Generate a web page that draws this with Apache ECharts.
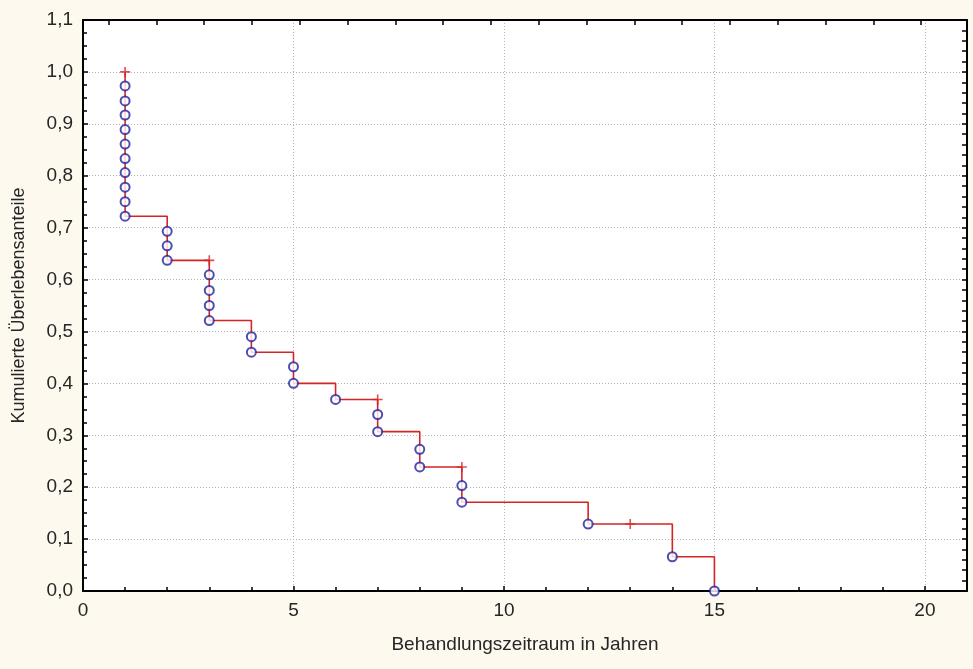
<!DOCTYPE html>
<html>
<head>
<meta charset="utf-8">
<title>Kumulierte Überlebensanteile</title>
<script src="https://cdn.jsdelivr.net/npm/echarts@6/dist/echarts.min.js"></script>
<style>
  html, body { margin: 0; padding: 0; background: #fdf9ee; }
  #chart { width: 973px; height: 669px; }
</style>
</head>
<body>
<div id="chart"></div>
<script>
// Kaplan-Meier curve: survival level after each event time
const startTime = 1;
const startSurvival = 1.0;
const stepTimes    = [1, 2, 3, 4, 5, 6, 7, 8, 9, 12, 14, 15];
const stepSurvival = [0.722, 0.637, 0.521, 0.460, 0.400, 0.369, 0.307, 0.239, 0.171, 0.129, 0.066, 0.0];

// completed cases (one circle per event)
const eventTimes = [1, 1, 1, 1, 1, 1, 1, 1, 1, 1,
                    2, 2, 2,
                    3, 3, 3, 3,
                    4, 4,
                    5, 5,
                    6,
                    7, 7,
                    8, 8,
                    9, 9,
                    12, 14, 15];
const eventSurvival = [0.973, 0.944, 0.917, 0.889, 0.861, 0.833, 0.806, 0.778, 0.750, 0.722,
                       0.693, 0.665, 0.637,
                       0.609, 0.579, 0.550, 0.521,
                       0.490, 0.460,
                       0.432, 0.400,
                       0.369,
                       0.340, 0.307,
                       0.273, 0.239,
                       0.203, 0.171,
                       0.129, 0.066, 0.0];

// censored cases
const censorTimes    = [1, 3, 7, 9, 13];
const censorSurvival = [1.0, 0.637, 0.369, 0.239, 0.129];

// tick labels
const xTickLabels = ['0', '5', '10', '15', '20'];
const yTickLabels = ['0,0', '0,1', '0,2', '0,3', '0,4', '0,5', '0,6', '0,7', '0,8', '0,9', '1,0', '1,1'];

const xAxisTitle = 'Behandlungszeitraum in Jahren';
const yAxisTitle = 'Kumulierte Überlebensanteile';

const RED = '#d42424';
const BLUE = '#22229e';
const FONT = 'Liberation Sans, Arial, sans-serif';
const TEXT = '#262626';

const lineData = [[startTime, startSurvival]].concat(stepTimes.map((t, i) => [t, stepSurvival[i]]));
const eventData = eventTimes.map((t, i) => [t, eventSurvival[i]]);
const censorData = censorTimes.map((t, i) => [t, censorSurvival[i]]);

const chart = echarts.init(document.getElementById('chart'), null, { renderer: 'canvas' });

const axisLineStyle = { color: '#000', width: 2 };
const tickStyle = { color: '#000', width: 1.5 };
const gridStyle = { color: '#b4b4b4', type: [1, 2], width: 1 };

chart.setOption({
  backgroundColor: '#fdf9ee',
  animation: false,
  grid: {
    left: 83, right: 6, top: 20, bottom: 78,
    show: true, backgroundColor: '#ffffff', borderWidth: 0
  },
  xAxis: [
    {
      type: 'value', position: 'bottom',
      min: 0, max: 21, interval: 5,
      axisLine: { show: true, onZero: false, lineStyle: axisLineStyle },
      axisTick: { show: true, inside: true, length: 5, lineStyle: tickStyle },
      minorTick: { show: true, splitNumber: 5, length: 4, lineStyle: tickStyle },
      axisLabel: {
        show: true, margin: 10, color: TEXT, fontFamily: FONT, fontSize: 19,
        showMaxLabel: false,
        formatter: v => xTickLabels[Math.round(v / 5)] ?? ''
      },
      splitLine: { show: true, lineStyle: gridStyle },
      name: xAxisTitle, nameLocation: 'middle', nameGap: 44,
      nameTextStyle: { color: TEXT, fontFamily: FONT, fontSize: 19 }
    },
    {
      // upper frame with its own tick spacing
      type: 'value', position: 'top',
      min: 0.464, max: 18.958, splitNumber: 18,
      axisLine: { show: true, onZero: false, lineStyle: axisLineStyle },
      axisTick: { show: true, inside: true, length: 5, lineStyle: tickStyle },
      axisLabel: { show: false },
      splitLine: { show: false }
    }
  ],
  yAxis: [
    {
      type: 'value', position: 'left',
      min: 0, max: 1.1, interval: 0.1,
      axisLine: { show: true, onZero: false, lineStyle: axisLineStyle },
      axisTick: { show: true, inside: true, length: 5, lineStyle: tickStyle },
      minorTick: { show: true, splitNumber: 4, length: 4, lineStyle: tickStyle },
      axisLabel: {
        show: true, margin: 10, color: TEXT, fontFamily: FONT, fontSize: 19,
        formatter: v => yTickLabels[Math.round(v * 10)] ?? ''
      },
      splitLine: { show: true, lineStyle: gridStyle },
      name: yAxisTitle, nameLocation: 'middle', nameGap: 55,
      nameTextStyle: { color: TEXT, fontFamily: FONT, fontSize: 18 }
    },
    {
      // right frame
      type: 'value', position: 'right',
      min: 0, max: 1.1, interval: 0.02,
      axisLine: { show: true, onZero: false, lineStyle: axisLineStyle },
      axisTick: { show: true, inside: true, length: 5, lineStyle: tickStyle },
      axisLabel: { show: false },
      splitLine: { show: false }
    }
  ],
  series: [
    {
      name: 'Kurve', type: 'line', step: 'end',
      data: lineData,
      symbol: 'none',
      lineStyle: { color: RED, width: 1.6 },
      z: 2
    },
    {
      name: 'Vollständig', type: 'scatter',
      data: eventData,
      symbol: 'circle', symbolSize: 9,
      itemStyle: { color: '#ffffff', borderColor: BLUE, borderWidth: 2 },
      z: 3
    },
    {
      name: 'Zensiert', type: 'scatter',
      data: censorData,
      symbol: 'path://M0,5L10,5M5,0L5,10', symbolSize: 10,
      itemStyle: { color: RED, borderColor: RED, borderWidth: 1.6 },
      z: 4
    }
  ]
});
</script>
</body>
</html>
